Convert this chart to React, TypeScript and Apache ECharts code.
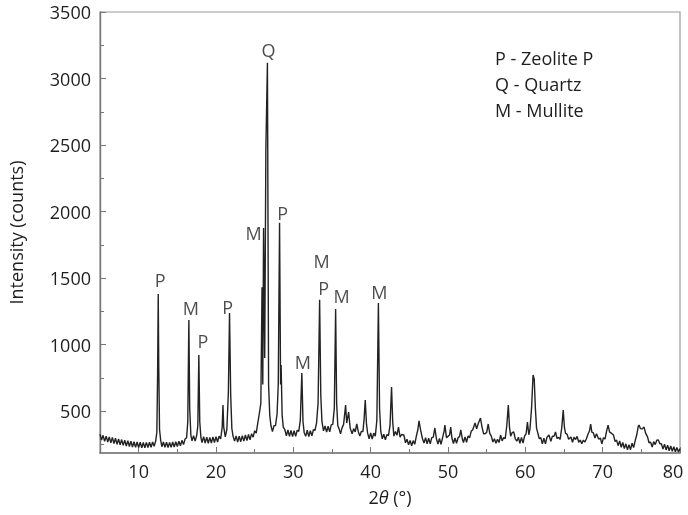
import { useEffect, useRef } from "react";
import * as echarts from "echarts";

// XRD scan: [2θ (°), intensity (counts)]
const scan: [number, number][] = [
  [5.0, 326], [5.2, 282], [5.4, 318], [5.6, 272], [5.8, 312], [6.0, 268], [6.2, 306], [6.4, 262], [6.6, 302], [6.8, 256],
  [7.0, 296], [7.2, 250], [7.4, 290], [7.6, 246], [7.8, 286], [8.0, 242], [8.2, 282], [8.4, 238], [8.6, 278], [8.8, 234],
  [9.0, 274], [9.2, 230], [9.4, 270], [9.6, 228], [9.8, 268], [10.0, 226], [10.2, 266], [10.4, 224], [10.6, 264], [10.8, 224],
  [11.0, 264], [11.2, 226], [11.4, 266], [11.6, 228], [11.8, 268], [12.0, 236], [12.2, 275], [12.35, 340], [12.45, 780], [12.53, 1381],
  [12.6, 820], [12.7, 360], [12.85, 280], [13.0, 232], [13.2, 268], [13.4, 228], [13.6, 266], [13.8, 226], [14.0, 264], [14.2, 228],
  [14.4, 268], [14.6, 230], [14.8, 270], [15.0, 234], [15.2, 274], [15.4, 240], [15.6, 280], [15.8, 248], [16.0, 290], [16.2, 300],
  [16.35, 420], [16.49, 1185], [16.6, 520], [16.75, 320], [16.9, 276], [17.1, 316], [17.3, 274], [17.5, 316], [17.65, 390], [17.78, 922],
  [17.9, 420], [18.05, 300], [18.2, 264], [18.4, 308], [18.6, 260], [18.8, 304], [19.0, 258], [19.2, 302], [19.4, 260], [19.6, 306],
  [19.8, 264], [20.0, 308], [20.2, 268], [20.4, 312], [20.6, 290], [20.8, 380], [20.9, 546], [21.0, 380], [21.2, 306], [21.4, 360],
  [21.6, 640], [21.75, 1238], [21.9, 620], [22.05, 370], [22.2, 312], [22.4, 274], [22.6, 314], [22.8, 268], [23.0, 312], [23.2, 270],
  [23.4, 316], [23.6, 274], [23.8, 320], [24.0, 278], [24.2, 324], [24.4, 284], [24.6, 330], [24.8, 304], [25.0, 352], [25.2, 334],
  [25.4, 410], [25.6, 480], [25.8, 560], [25.95, 1430], [26.05, 700], [26.15, 1877], [26.3, 900], [26.45, 2480], [26.65, 3118], [26.8, 700],
  [26.95, 470], [27.1, 392], [27.3, 346], [27.5, 390], [27.7, 392], [27.9, 480], [28.05, 700], [28.22, 1915], [28.35, 700], [28.42, 847],
  [28.55, 470], [28.7, 380], [28.9, 360], [29.1, 314], [29.3, 358], [29.5, 310], [29.7, 354], [29.9, 308], [30.1, 352], [30.3, 310],
  [30.5, 356], [30.7, 348], [30.9, 430], [31.1, 787], [31.25, 420], [31.4, 340], [31.6, 310], [31.8, 356], [32.0, 308], [32.2, 352],
  [32.4, 314], [32.6, 360], [32.8, 356], [33.0, 410], [33.2, 560], [33.4, 1336], [33.55, 620], [33.7, 420], [33.9, 352], [34.1, 388],
  [34.3, 342], [34.5, 386], [34.7, 344], [34.9, 396], [35.1, 400], [35.3, 520], [35.47, 1268], [35.6, 560], [35.75, 390], [35.9, 370],
  [36.1, 330], [36.3, 374], [36.5, 400], [36.76, 546], [36.9, 410], [37.15, 493], [37.35, 372], [37.6, 330], [37.8, 368], [38.0, 344],
  [38.2, 403], [38.4, 345], [38.6, 312], [38.8, 348], [39.0, 346], [39.15, 440], [39.3, 583], [39.45, 410], [39.6, 336], [39.8, 292],
  [40.0, 336], [40.2, 290], [40.4, 334], [40.6, 312], [40.8, 430], [41.0, 1313], [41.15, 520], [41.3, 352], [41.5, 292], [41.7, 326],
  [41.9, 284], [42.1, 324], [42.3, 316], [42.5, 390], [42.7, 681], [42.85, 420], [43.0, 312], [43.2, 346], [43.4, 318], [43.6, 380],
  [43.8, 304], [44.0, 324], [44.3, 320], [44.5, 262], [44.7, 288], [44.9, 246], [45.1, 280], [45.3, 240], [45.5, 278], [45.7, 250],
  [45.9, 310], [46.1, 360], [46.25, 426], [46.45, 360], [46.7, 292], [46.9, 260], [47.1, 300], [47.3, 254], [47.5, 296], [47.7, 254],
  [47.9, 300], [48.1, 305], [48.3, 373], [48.5, 292], [48.7, 252], [48.9, 294], [49.1, 250], [49.3, 300], [49.5, 350], [49.6, 395],
  [49.8, 300], [50.0, 310], [50.2, 320], [50.35, 380], [50.5, 300], [50.7, 256], [50.9, 298], [51.1, 258], [51.3, 300], [51.5, 310],
  [51.65, 358], [51.85, 292], [52.0, 264], [52.2, 306], [52.4, 266], [52.6, 314], [52.8, 300], [53.0, 348], [53.2, 360], [53.5, 411],
  [53.7, 366], [53.9, 405], [54.2, 448], [54.4, 380], [54.6, 330], [54.8, 330], [55.0, 340], [55.2, 403], [55.4, 332], [55.6, 312],
  [55.8, 268], [56.0, 292], [56.2, 258], [56.4, 288], [56.6, 264], [56.8, 320], [57.0, 276], [57.2, 302], [57.4, 292], [57.6, 390],
  [57.8, 546], [57.95, 380], [58.1, 312], [58.3, 338], [58.5, 343], [58.7, 292], [58.9, 274], [59.1, 304], [59.3, 258], [59.5, 302],
  [59.7, 260], [59.9, 312], [60.1, 330], [60.27, 418], [60.45, 322], [60.6, 366], [60.8, 520], [61.0, 772], [61.15, 740], [61.3, 520],
  [61.45, 372], [61.6, 338], [61.8, 292], [62.0, 300], [62.2, 254], [62.4, 296], [62.6, 254], [62.8, 304], [63.06, 320], [63.3, 272],
  [63.5, 312], [63.7, 310], [63.9, 343], [64.1, 294], [64.3, 302], [64.5, 288], [64.7, 370], [64.9, 508], [65.05, 380], [65.2, 332],
  [65.4, 326], [65.6, 288], [65.9, 305], [66.1, 266], [66.3, 304], [66.5, 286], [66.7, 310], [66.9, 266], [67.1, 282], [67.3, 254],
  [67.5, 282], [67.7, 268], [67.9, 292], [68.1, 326], [68.3, 352], [68.45, 403], [68.6, 342], [68.8, 336], [69.0, 298], [69.2, 330],
  [69.5, 288], [69.7, 298], [69.9, 254], [70.1, 300], [70.3, 290], [70.5, 348], [70.7, 395], [70.9, 342], [71.1, 336], [71.4, 320],
  [71.6, 272], [71.8, 282], [72.0, 240], [72.2, 276], [72.4, 228], [72.6, 264], [72.8, 218], [73.0, 254], [73.2, 210], [73.4, 248],
  [73.6, 210], [73.8, 258], [74.0, 226], [74.2, 276], [74.4, 320], [74.6, 385], [74.7, 395], [74.9, 368], [75.1, 366], [75.35, 380],
  [75.55, 334], [75.8, 306], [76.0, 262], [76.2, 266], [76.4, 230], [76.6, 270], [76.8, 248], [77.0, 282], [77.2, 283], [77.4, 254],
  [77.6, 254], [77.8, 214], [78.0, 252], [78.2, 208], [78.4, 244], [78.6, 202], [78.8, 238], [79.0, 198], [79.2, 232], [79.4, 194],
  [79.6, 226], [79.8, 192], [80.0, 218],
];

// Phase assignments of the indexed reflections
const peakPhases = ["P", "M", "P", "P", "M", "Q", "P", "M", "P", "M", "M", "M"];
const peakTwoTheta = [12.53, 16.49, 17.78, 21.75, 26.15, 26.65, 28.22, 31.1, 33.4, 33.4, 35.47, 41.0];
const peakCounts = [1381, 1185, 922, 1238, 1877, 3118, 1915, 787, 1336, 1336, 1268, 1313];

const legendLines = ["P - Zeolite P", "Q - Quartz", "M - Mullite"];

const yMajorTicks = [500, 1000, 1500, 2000, 2500, 3000, 3500];
const yMinorTicks = [250, 750, 1250, 1750, 2250, 2750, 3250];
const xMajorTicks = [10, 20, 30, 40, 50, 60, 70, 80];
const xMinorTicks = [15, 25, 35, 45, 55, 65, 75];

const FONT = "'Open Sans', 'Noto Sans', sans-serif";
const TEXT = "#1e1e1e";
const AXIS = "#777";

export default function App() {
  const ref = useRef<HTMLDivElement>(null);

  useEffect(() => {
    if (!ref.current) return;
    const chart = echarts.init(ref.current, undefined, { renderer: "svg" });

    // label placement around each peak top: [dx, dy] in px
    const labelShift: [number, number][] = [
      [2, -14], [2, -12], [4, -14], [-2, -6], [-10, 5], [1, -13],
      [3, -10], [1, -11], [4, -12], [2, -39], [6, -13], [1, -11],
    ];

    const yBase = { type: "value" as const, min: 185, max: 3500, splitLine: { show: false } };
    const xBase = { type: "value" as const, min: 5, max: 80, splitLine: { show: false } };

    chart.setOption({
      animation: false,
      textStyle: { fontFamily: FONT },
      grid: {
        left: 100,
        right: 8,
        top: 12,
        bottom: 62,
        outerBoundsMode: "none",
        containLabel: false,
        show: true,
        borderColor: "#999",
        borderWidth: 1.2,
        backgroundColor: "transparent",
      },
      xAxis: [
        {
          ...xBase,
          position: "bottom",
          axisLine: { show: true, lineStyle: { color: AXIS, width: 1.6 } },
          axisTick: { show: true, inside: true, length: 6, customValues: xMajorTicks, lineStyle: { color: AXIS } },
          axisLabel: {
            show: true,
            customValues: xMajorTicks,
            fontSize: 18,
            color: TEXT,
            margin: 9,
            fontFamily: FONT,
            // the last label sits a little left of the frame corner
            formatter: (v: number) => (v === 80 ? "{edge|80}" : String(v)),
            rich: {
              edge: { fontSize: 18, color: TEXT, fontFamily: FONT, padding: [0, 14, 0, 0] },
            },
          },
          name: "{n|2}{t|θ}{n| (°)}",
          nameLocation: "middle",
          nameGap: 35,
          nameTextStyle: {
            rich: {
              n: { fontSize: 18, color: TEXT, fontFamily: FONT },
              t: { fontSize: 18, color: TEXT, fontFamily: FONT, fontStyle: "italic" },
            },
          },
        },
        {
          ...xBase,
          position: "bottom",
          axisLine: { show: false },
          axisTick: { show: true, inside: true, length: 4, customValues: xMinorTicks, lineStyle: { color: AXIS } },
          axisLabel: { show: false },
        },
      ],
      yAxis: [
        {
          ...yBase,
          position: "left",
          axisLine: { show: true, lineStyle: { color: AXIS, width: 1.4 } },
          axisTick: { show: true, inside: true, length: 6, customValues: yMajorTicks, lineStyle: { color: AXIS } },
          axisLabel: {
            show: true,
            customValues: yMajorTicks,
            fontSize: 18,
            color: TEXT,
            margin: 9,
            fontFamily: FONT,
            formatter: (v: number) => String(v),
          },
          name: "Intensity (counts)",
          nameLocation: "middle",
          nameGap: 75,
          nameTextStyle: { fontSize: 18, color: TEXT, fontFamily: FONT },
        },
        {
          ...yBase,
          position: "left",
          axisLine: { show: false },
          axisTick: { show: true, inside: true, length: 4, customValues: yMinorTicks, lineStyle: { color: AXIS } },
          axisLabel: { show: false },
        },
      ],
      series: [
        {
          type: "line",
          xAxisIndex: 0,
          yAxisIndex: 0,
          data: scan,
          showSymbol: false,
          symbol: "none",
          lineStyle: { color: "#222", width: 1.4 },
          silent: true,
          z: 2,
        },
        {
          type: "scatter",
          xAxisIndex: 0,
          yAxisIndex: 0,
          symbolSize: 0,
          silent: true,
          z: 3,
          data: peakPhases.map((phase, i) => [peakTwoTheta[i], peakCounts[i], phase]),
          label: {
            show: true,
            position: "inside",
            align: "center",
            verticalAlign: "middle",
            fontSize: 18,
            color: TEXT,
            fontFamily: FONT,
            formatter: (p: any) => p.value[2],
          },
          labelLayout: (p: any) => ({
            dx: labelShift[p.dataIndex][0],
            dy: labelShift[p.dataIndex][1],
            hideOverlap: false,
          }),
        },
      ],
      graphic: legendLines.map((line, i) => ({
        type: "text",
        left: 495,
        top: 49 + i * 26,
        style: { text: line, fontSize: 18, fill: TEXT, fontFamily: FONT },
        silent: true,
      })),
    });

    return () => chart.dispose();
  }, []);

  return (
    <div
      ref={ref}
      style={{ position: "fixed", left: 0, top: 0, width: 688, height: 515 }}
    />
  );
}
